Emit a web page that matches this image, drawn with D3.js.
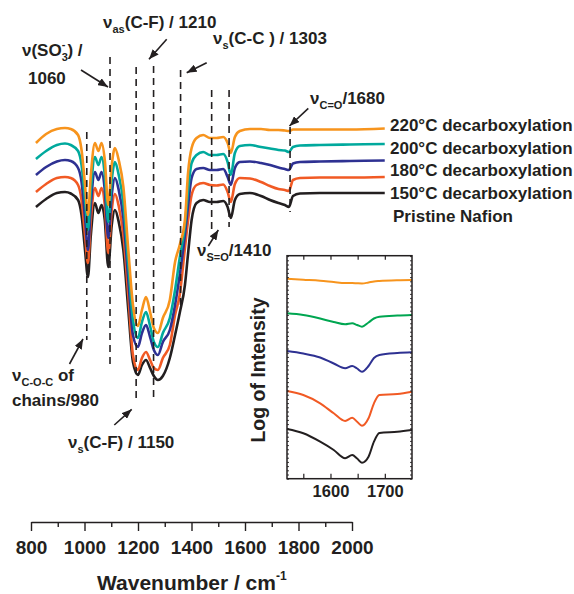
<!DOCTYPE html>
<html>
<head>
<meta charset="utf-8">
<script src="https://cdn.jsdelivr.net/npm/d3@7"></script>
<style>
  html, body { margin: 0; padding: 0; background: #fff; }
  svg { display: block; font-family: "Liberation Sans", Arial, Helvetica, sans-serif; font-weight: bold; }
</style>
</head>
<body>
<svg id="chart" width="574" height="594"></svg>
<script>
// ---- FTIR spectra (stacked traces, intensity in arbitrary units) ----
const wavenumbers = [805, 840, 877, 905, 925, 950, 962, 974, 984, 994,
  1008, 1020, 1031, 1042, 1054, 1066, 1077, 1090, 1106, 1123,
  1139, 1156, 1170, 1184, 1198, 1211, 1225, 1242, 1266, 1284,
  1300, 1318, 1329, 1341, 1358, 1381, 1404, 1427, 1450, 1465,
  1476, 1490, 1507, 1542, 1580, 1611, 1640, 1662, 1676, 1690,
  1714, 1783, 1886, 2006];

const pristineNafion = [193, 201, 207, 208, 206.5, 200, 185, 150, 123, 165,
  197, 187, 195, 180, 133, 175, 190, 178, 150, 90,
  38, 25, 35, 40, 32, 24, 20, 24, 42, 65,
  87, 115, 147, 180, 197, 200, 198, 198, 199, 193,
  182, 200, 206, 207, 204, 200, 197, 195, 193, 204,
  206.5, 207, 207, 207];

const decarb150 = [208, 216, 222, 223, 222, 215, 200, 165, 137, 180,
  212, 204, 212, 195, 147, 190, 206, 194, 165, 105,
  45, 30, 42, 48, 40, 32, 30, 42, 55, 85,
  105, 152, 180, 205, 215, 217, 215, 214.5, 215.5, 208,
  198, 216, 222, 221.5, 218, 214, 211, 210, 209, 220,
  222, 222.5, 222.5, 223];

const decarb180 = [225, 233, 238.5, 240, 239, 232, 218, 182, 150, 195,
  228, 220, 228, 210, 162, 205, 222, 210, 182, 120,
  65, 53, 67, 75, 63, 50, 45, 58, 70, 95,
  125, 165, 195, 222, 231, 232, 230, 230, 231, 223,
  215, 232, 238, 238.5, 237, 235, 232.5, 231, 230, 236.5,
  238, 238.5, 239, 239.5];

const decarb200 = [241, 249, 255, 256.5, 255, 249, 235, 200, 170, 210,
  243, 235, 243, 225, 178, 220, 238, 225, 197, 135,
  80, 62, 78, 88, 74, 58, 53, 67, 82, 110,
  142, 175, 210, 237, 245, 248, 245, 245, 246, 238,
  225, 247, 254, 255, 253, 251.5, 250, 249.5, 248, 253,
  254.5, 255, 255.5, 256];

const decarb220 = [257, 266, 271, 272, 271, 265, 250, 215, 185, 225,
  257, 249, 257, 240, 195, 235, 252, 240, 213, 150,
  95, 74, 90, 103, 88, 72, 67, 82, 100, 138,
  155, 180, 228, 252, 262, 265, 262, 262, 263, 257,
  247, 263, 269, 271, 271, 270, 270, 269.5, 269, 270.5,
  270.5, 270.5, 270.5, 271.5];

const seriesLabels = ["220\u00B0C decarboxylation", "200\u00B0C decarboxylation",
  "180\u00B0C decarboxylation", "150\u00B0C decarboxylation", "Pristine Nafion"];

// band positions marked with dashed guides (cm-1)
const bandMarkers = [980, 1060, 1150, 1210, 1303, 1410, 1470, 1680];

// bottom axis ticks
const axisTicks = [800, 1000, 1200, 1400, 1600, 1800, 2000];
const axisMinorTicks = [900, 1100, 1300, 1500, 1700, 1900];

// ---- inset: C=O region, log of intensity ----
const insetWavenumbers = [1520, 1550, 1581, 1606, 1627, 1640, 1649, 1658, 1670, 1680, 1690, 1723, 1750];
const insetPristine = [0.497, 0.454, 0.37, 0.287, 0.204, 0.237, 0.202, 0.16, 0.22, 0.37, 0.457, 0.47, 0.487];
const inset150 = [0.877, 0.837, 0.754, 0.654, 0.577, 0.61, 0.57, 0.53, 0.604, 0.754, 0.837, 0.847, 0.87];
const inset180 = [1.277, 1.252, 1.212, 1.152, 1.104, 1.127, 1.102, 1.07, 1.127, 1.207, 1.237, 1.257, 1.264];
const inset200 = [1.654, 1.637, 1.602, 1.567, 1.544, 1.554, 1.537, 1.52, 1.562, 1.602, 1.62, 1.632, 1.637];
const inset220 = [2.00, 1.99, 1.98, 1.967, 1.957, 1.957, 1.954, 1.952, 1.962, 1.972, 1.977, 1.985, 1.987];
const insetTicks = [1550, 1600, 1650, 1700];
const insetTickLabels = [1600, 1700];

// ---------------------------------------------------------------
const svg = d3.select("#chart");
const ink = "#231f20";

// trace panel scales
const xSpectra = d3.scaleLinear().domain([800, 2000]).range([34.5, 383]);
const yMain = d3.scaleLinear().domain([0, 280]).range([400, 120]);
// bottom axis scale
const xAxisScale = d3.scaleLinear().domain([800, 2000]).range([31, 352]);

const traces = [
  { values: pristineNafion, color: "#231f20" },
  { values: decarb150, color: "#f15a24" },
  { values: decarb180, color: "#2e3192" },
  { values: decarb200, color: "#00a99d" },
  { values: decarb220, color: "#f7941d" }
];

const line = d3.line()
  .x((d, i) => xSpectra(wavenumbers[i]))
  .y(d => yMain(d))
  .curve(d3.curveMonotoneX);

svg.append("g").selectAll("path")
  .data(traces)
  .join("path")
  .attr("d", d => line(d.values))
  .attr("fill", "none")
  .attr("stroke", d => d.color)
  .attr("stroke-width", 2.6)
  .attr("stroke-linejoin", "round");

// dashed band guides (vertical extents in px)
const guideSpan = {980: [132, 340], 1060: [57, 367], 1150: [67, 398], 1210: [66, 398],
  1303: [70, 305], 1410: [90, 230], 1470: [90, 227], 1680: [127, 212]};
svg.append("g").selectAll("line")
  .data(bandMarkers)
  .join("line")
  .attr("x1", d => xSpectra(d)).attr("x2", d => xSpectra(d))
  .attr("y1", d => guideSpan[d][0]).attr("y2", d => guideSpan[d][1])
  .attr("stroke", ink)
  .attr("stroke-width", 1.6)
  .attr("stroke-dasharray", "7,5");

// series labels
svg.append("g").selectAll("text")
  .data(seriesLabels)
  .join("text")
  .attr("x", (d, i) => i === 4 ? 393 : 390)
  .attr("y", (d, i) => 131 + i * 22.7)
  .attr("font-size", 17)
  .attr("fill", ink)
  .text(d => d);

// bottom axis
const axisG = svg.append("g").attr("transform", "translate(0,522)");
axisG.call(d3.axisBottom(xAxisScale).tickValues(axisTicks).tickSize(9).tickSizeOuter(0)
  .tickPadding(10).tickFormat(d3.format("d")));
axisG.append("g").call(d3.axisBottom(xAxisScale).tickValues(axisMinorTicks).tickSize(5).tickFormat(""))
  .select(".domain").remove();
axisG.selectAll(".domain, line").attr("stroke", ink).attr("stroke-width", 1.4);
axisG.selectAll("text").attr("font-size", 19).attr("font-family", null).attr("fill", ink);
axisG.attr("font-family", null);

const xTitle = svg.append("text").attr("x", 97).attr("y", 590).attr("font-size", 21).attr("fill", ink);
xTitle.append("tspan").text("Wavenumber / cm");
xTitle.append("tspan").attr("font-size", 12).attr("dy", -10).text("-1");

// ---- annotations ----
function rich(x, y, parts, size) {
  const t = svg.append("text").attr("x", x).attr("y", y).attr("font-size", size).attr("fill", ink);
  let shift = 0;
  parts.forEach(p => {
    const target = p.sub ? 5 : p.sup ? -8 : 0;
    const ts = t.append("tspan").attr("dy", target - shift)
      .attr("font-size", (p.sub || p.sup) ? 11 : size).text(p.t);
    if (p.dx) ts.attr("dx", p.dx);
    shift = target;
  });
}

rich(22, 56, [{ t: "\u03BD(SO" }, { t: "3", sub: true }, { t: "-", sup: true, dx: -6 }, { t: ") /", dx: 2 }], 17);
rich(28, 84, [{ t: "1060" }], 17);
rich(103, 28, [{ t: "\u03BD" }, { t: "as", sub: true }, { t: "(C-F) / 1210" }], 17);
rich(213, 44, [{ t: "\u03BD" }, { t: "s", sub: true }, { t: "(C-C ) / 1303" }], 17);
rich(310, 104, [{ t: "\u03BD" }, { t: "C=O", sub: true }, { t: "/1680" }], 17);
rich(197, 256, [{ t: "\u03BD" }, { t: "S=O", sub: true }, { t: "/1410" }], 17);
rich(12, 381, [{ t: "\u03BD" }, { t: "C-O-C", sub: true }, { t: " of" }], 17);
rich(12, 406, [{ t: "chains/980" }], 17);
rich(68, 448, [{ t: "\u03BD" }, { t: "s", sub: true }, { t: "(C-F) / 1150" }], 17);

// arrows
const defs = svg.append("defs");
defs.append("marker")
  .attr("id", "head")
  .attr("viewBox", "0 0 10 8")
  .attr("refX", 10).attr("refY", 4)
  .attr("markerWidth", 10).attr("markerHeight", 8)
  .attr("markerUnits", "userSpaceOnUse")
  .attr("orient", "auto")
  .append("path").attr("d", "M0,0 L10,4 L0,8 Z").attr("fill", ink);

const arrows = [
  [81, 70, 108, 87],
  [166.7, 39.3, 149, 59.3],
  [206.7, 62.7, 186.7, 72.7],
  [308.3, 108.3, 289.5, 126],
  [208.3, 246, 218.3, 230],
  [69.5, 364, 83, 339],
  [114.3, 425, 131.7, 409.3]
];
svg.append("g").selectAll("line")
  .data(arrows)
  .join("line")
  .attr("x1", d => d[0]).attr("y1", d => d[1])
  .attr("x2", d => d[2]).attr("y2", d => d[3])
  .attr("stroke", ink).attr("stroke-width", 1.6)
  .attr("marker-end", "url(#head)");

// ---- inset ----
const inL = 287, inR = 412, inT = 255.7, inB = 478.7;
const xInset = d3.scaleLinear().domain([1520, 1750]).range([inL, inR]);
const yInset = d3.scaleLinear().domain([0, 2.23]).range([inB, inT]);

const insetTraces = [
  { values: insetPristine, color: "#231f20" },
  { values: inset150, color: "#f15a24" },
  { values: inset180, color: "#2e3192" },
  { values: inset200, color: "#00a651" },
  { values: inset220, color: "#f7941d" }
];
const insetLine = d3.line()
  .x((d, i) => xInset(insetWavenumbers[i]))
  .y(d => yInset(d))
  .curve(d3.curveMonotoneX);

svg.append("g").selectAll("path")
  .data(insetTraces)
  .join("path")
  .attr("d", d => insetLine(d.values))
  .attr("fill", "none")
  .attr("stroke", d => d.color)
  .attr("stroke-width", 2);

const ib = svg.append("g").attr("transform", `translate(0,${inB})`)
  .call(d3.axisBottom(xInset).tickValues(insetTicks).tickSize(-5).tickSizeOuter(0).tickPadding(6.5)
    .tickFormat(d => insetTickLabels.includes(d) ? d : ""));
ib.select(".domain").remove();
ib.selectAll("line").attr("stroke", ink).attr("stroke-width", 1.2);
ib.selectAll("text").attr("font-size", 16.5).attr("fill", ink);
ib.attr("font-family", null);

const it = svg.append("g").attr("transform", `translate(0,${inT})`)
  .call(d3.axisTop(xInset).tickValues(insetTicks).tickSize(-4).tickSizeOuter(0).tickFormat(""));
it.select(".domain").remove();
it.selectAll("line").attr("stroke", ink).attr("stroke-width", 1.2);

const minorY = d3.range(0, 2.23, 0.042);
[[inL, d3.axisLeft, -2], [inR, d3.axisRight, -2]].forEach(([x, ax, s]) => {
  const g = svg.append("g").attr("transform", `translate(${x},0)`)
    .call(ax(yInset).tickValues(minorY).tickSize(s).tickSizeOuter(0).tickFormat(""));
  g.select(".domain").remove();
  g.selectAll("line").attr("stroke", ink).attr("stroke-width", 0.9);
});

svg.append("rect")
  .attr("x", inL).attr("y", inT)
  .attr("width", inR - inL).attr("height", inB - inT)
  .attr("fill", "none").attr("stroke", ink).attr("stroke-width", 1.5);

svg.append("text")
  .attr("transform", "translate(265,370) rotate(-90)")
  .attr("text-anchor", "middle")
  .attr("font-size", 19.5)
  .attr("fill", ink)
  .text("Log of Intensity");
</script>
</body>
</html>
